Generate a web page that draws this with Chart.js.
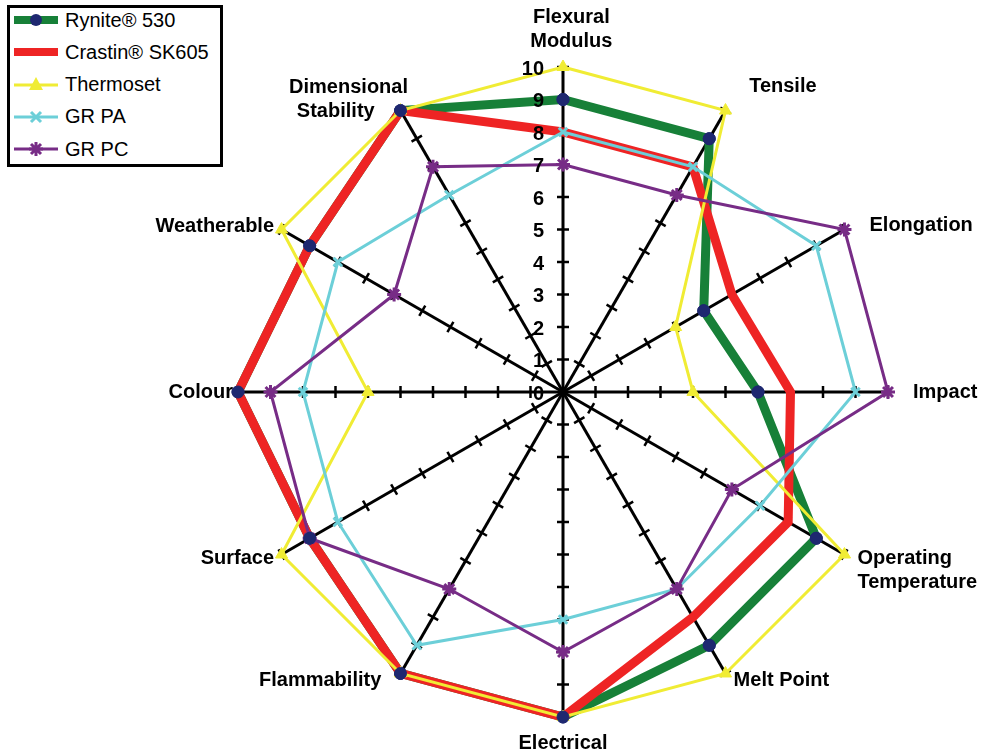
<!DOCTYPE html>
<html>
<head>
<meta charset="utf-8">
<script src="https://cdn.jsdelivr.net/npm/chart.js@4.4.1/dist/chart.umd.min.js"></script>
<style>
  html, body { margin: 0; padding: 0; background: #fff; }
  #wrap { position: relative; width: 984px; height: 755px; overflow: hidden; }
  #myChart { position: absolute; left: 0; top: -7px; }
  #legend {
    position: absolute; left: 7px; top: 5px; width: 210px; height: 156px;
    border: 3px solid #000; background: #fff;
    font-family: "Liberation Sans", Arial, sans-serif; font-size: 20px; color: #000;
  }
  .row { position: absolute; left: 4px; height: 24px; display: flex; align-items: center; }
  .row svg { margin-right: 5px; }
</style>
</head>
<body>
<div id="wrap">
  <canvas id="myChart" width="1000" height="774"></canvas>
  <div id="legend"></div>
</div>
<script>
	// 축 이름 (시계방향, 맨 위부터)
	const axisLabels = [
		['Flexural', 'Modulus'], 'Tensile', 'Elongation', 'Impact',
		['Operating', 'Temperature'], 'Melt Point', 'Electrical', 'Flammability',
		'Surface', 'Colour', 'Weatherable', ['Dimensional', 'Stability']
	];
	const tickLabels = ['0', '1', '2', '3', '4', '5', '6', '7', '8', '9', '10'];

	// 시리즈 값
	const rynite    = [9, 9, 5, 6, 9, 9, 10, 10, 9, 10, 9, 10];
	const crastin   = [8, 8, 6, 7, 8, 8, 10, 10, 9, 10, 9, 10];
	const thermoset = [10, 10, 4, 4, 10, 10, 10, 10, 10, 6, 10, 10];
	const grPA      = [8, 8, 9, 9, 7, 7, 7, 9, 8, 8, 8, 7];
	const grPC      = [7, 7, 10, 10, 6, 7, 8, 7, 9, 9, 6, 8];

	const FONT = '"Liberation Sans", Arial, sans-serif';

	// 라벨 위치 미세조정 (패딩, 앞/뒤 공백 수)
	const labelPad   = [14, 14, -16, 25, -17, -6, 14, -6, -17, 5, -17, -15];
	const leadSpace  = [3, 3, 7, 0, 5, 2, 0, 0, 0, 0, 0, 0];
	const trailSpace = [0, 0, 0, 0, 0, 0, 0, 4, 4, 0, 4, 0];

	// 축 위의 작은 눈금 표시
	const tickMarks = {
		id: 'tickMarks',
		beforeDatasetsDraw(chart) {
			const scale = chart.scales.r;
			const ctx = chart.ctx;
			ctx.save();
			ctx.strokeStyle = '#000';
			ctx.lineWidth = 2.5;
			for (let i = 0; i < axisLabels.length; i++) {
				const a = scale.getIndexAngle(i) - Math.PI / 2;
				const px = -Math.sin(a), py = Math.cos(a);
				for (let v = 1; v <= 10; v++) {
					const p = scale.getPointPositionForValue(i, v);
					ctx.beginPath();
					ctx.moveTo(p.x - px * 6, p.y - py * 6);
					ctx.lineTo(p.x + px * 6, p.y + py * 6);
					ctx.stroke();
				}
			}
			ctx.restore();
		},
		afterDatasetsDraw(chart) {
			// Rynite 마커는 빨간 선 위에 다시 그림
			const ctx = chart.ctx;
			chart.getDatasetMeta(0).data.forEach(pt => pt.draw(ctx, chart.chartArea));
			// 눈금 숫자 (세로축 왼쪽)
			const scale = chart.scales.r;
			ctx.save();
			ctx.fillStyle = '#000';
			ctx.font = 'bold 20px ' + FONT;
			ctx.textAlign = 'right';
			ctx.textBaseline = 'middle';
			tickLabels.forEach((t, v) => {
				const p = scale.getPointPositionForValue(0, v);
				ctx.fillText(t, p.x - 19, p.y + 2);
			});
			ctx.restore();
		}
	};

	const canvas = document.querySelector('#myChart');
	const chart = new Chart(canvas, {
		type: 'radar',
		data: {
			labels: axisLabels,
			datasets: [
				{
					label: 'Rynite® 530', data: rynite, order: 5,
					borderColor: '#178038', borderWidth: 9,
					pointStyle: 'circle', pointRadius: 6,
					pointBackgroundColor: '#1e2870', pointBorderColor: '#1e2870', pointBorderWidth: 1
				},
				{
					label: 'Crastin® SK605', data: crastin, order: 4,
					borderColor: '#ee2424', borderWidth: 9, pointRadius: 0
				},
				{
					label: 'Thermoset', data: thermoset, order: 3,
					borderColor: '#f0ec34', borderWidth: 3,
					pointStyle: 'triangle', pointRadius: 7,
					pointBackgroundColor: '#f0ec34', pointBorderColor: '#f0ec34', pointBorderWidth: 1
				},
				{
					label: 'GR PA', data: grPA, order: 2,
					borderColor: '#6ccfd8', borderWidth: 3,
					pointStyle: 'crossRot', pointRadius: 6,
					pointBorderColor: '#6ccfd8', pointBorderWidth: 3
				},
				{
					label: 'GR PC', data: grPC, order: 1,
					borderColor: '#772c86', borderWidth: 3,
					pointStyle: 'star', pointRadius: 7,
					pointBorderColor: '#772c86', pointBorderWidth: 3
				}
			]
		},
		options: {
			responsive: false,
			devicePixelRatio: 1,
			animation: false,
			layout: { padding: { left: 131, right: 5, top: 0, bottom: 0 } },
			elements: { line: { tension: 0, fill: false, borderJoinStyle: 'miter' } },
			plugins: { legend: { display: false }, tooltip: { enabled: false } },
			scales: {
				r: {
					min: 0, max: 10,
					ticks: { stepSize: 1, display: false },
					grid: { display: false },
					angleLines: { display: true, color: '#000', lineWidth: 3 },
					pointLabels: {
						display: true, color: '#000',
						padding: (c) => labelPad[c.index],
						font: { family: FONT, size: 20, weight: 'bold', lineHeight: 1.2 },
						callback: (label, i) => {
							if (i === 11) return [label[0], label[1] + ' '.repeat(6)];
							const pad = s => ' '.repeat(leadSpace[i]) + s + ' '.repeat(trailSpace[i]);
							return Array.isArray(label) ? label.map(pad) : pad(label);
						}
					}
				}
			}
		},
		plugins: [tickMarks]
	});

	// 중심을 원본 위치(563, 392)에 맞춤
	const sc = chart.scales.r;
	canvas.style.left = (563 - sc.xCenter) + 'px';
	canvas.style.top = (392 - sc.yCenter) + 'px';

	// 범례 (선 + 마커)
	function markerSvg(ds) {
		const c = ds.pointBorderColor || ds.borderColor;
		switch (ds.pointStyle) {
			case 'circle': return `<circle cx="22" cy="12" r="6" fill="${ds.pointBackgroundColor}"/>`;
			case 'triangle': return `<polygon points="22,4 29,17 15,17" fill="${ds.pointBackgroundColor}"/>`;
			case 'crossRot': return `<path d="M17,7 L27,17 M27,7 L17,17" stroke="${c}" stroke-width="3"/>`;
			case 'star': return `<path d="M17,7 L27,17 M27,7 L17,17 M22,5 L22,19 M15,12 L29,12" stroke="${c}" stroke-width="3"/>`;
			default: return '';
		}
	}
	const legend = document.querySelector('#legend');
	chart.data.datasets.forEach((ds, i) => {
		const row = document.createElement('div');
		row.className = 'row';
		row.style.top = (i * 32.3) + 'px';
		row.innerHTML = `<svg width="46" height="24"><line x1="0" y1="12" x2="44" y2="12" stroke="${ds.borderColor}" stroke-width="${ds.borderWidth > 5 ? 8 : 3}"/>${markerSvg(ds)}</svg><span>${ds.label}</span>`;
		legend.appendChild(row);
	});
</script>
</body>
</html>
